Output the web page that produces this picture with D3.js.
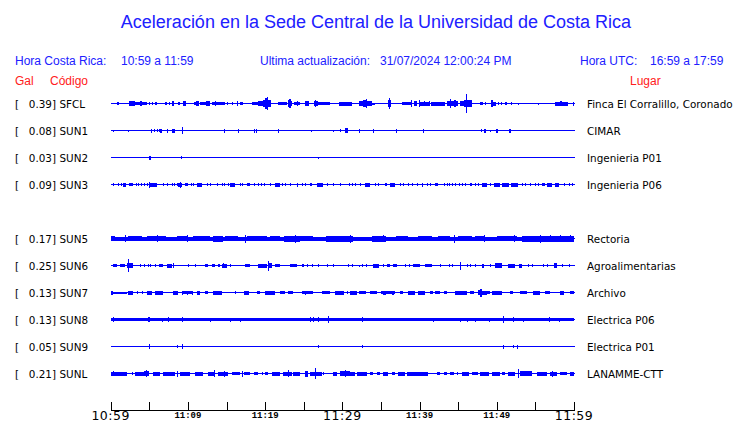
<!DOCTYPE html>
<html><head><meta charset="utf-8">
<script src="https://cdn.jsdelivr.net/npm/d3@7"></script>
<style>body{margin:0;background:#fff}svg{display:block}</style>
</head><body>
<svg id="c" width="740" height="423"></svg>
<script>
// ---------- data ----------
const title = "Aceleración en la Sede Central de la Universidad de Costa Rica";
const horaCR = "10:59 a 11:59";
const horaUTC = "16:59 a 17:59";
const actualizacion = "31/07/2024 12:00:24 PM";
const stations = ["SFCL","SUN1","SUN2","SUN3","SUN4","SUN5","SUN6","SUN7","SUN8","SUN9","SUNL"];
const galValues = [0.39,0.08,0.03,0.09,null,0.17,0.25,0.13,0.13,0.05,0.21];
const places = ["Finca El Corralillo, Coronado","CIMAR","Ingenieria P01","Ingenieria P06",null,"Rectoria","Agroalimentarias","Archivo","Electrica P06","Electrica P01","LANAMME-CTT"];
const tickMinutes = [0,5,10,15,20,25,30,35,40,45,50,55,60];
const labelMinutes = [0,10,20,30,40,50,60];
const tickLabels = ["10:59","11:09","11:19","11:29","11:39","11:49","11:59"];
const bigLabels = ["10:59","11:29","11:59"];

// waveform envelopes: [t0(min), t1(min), amplitude] or [t(min), amplitude]
const evSFCL = [[0.8,1.1,1],[2.4,3.2,2],[3.2,4.7,1],[3.8,4.0,2],[5.0,1],[5.3,5.5,1],[5.7,6.0,1],
[7.0,7.3,1],[7.5,7.7,1],[7.9,8.2,2],[8.7,9.0,1],[9.4,9.8,2],
[10.8,11.0,1],[11.1,11.4,2],[11.6,12.3,1],[12.4,12.9,2],[13.1,14.8,1],[13.5,13.7,2],[15.0,15.2,1],[15.7,15.8,1],[16.3,16.5,2],[16.8,17.1,1],
[18.3,19.1,1],[19.1,19.7,2],[19.7,20.0,3],[20.0,20.4,5],[20.2,20.3,6],[20.4,20.7,3],
[21.7,22.8,1],[22.9,23.1,3],[23.1,23.3,4],[23.3,23.5,2],[23.7,24.5,1],[24.1,24.3,2],[25.2,25.7,2],[26.3,26.8,2],[26.5,26.6,3],[26.9,28.4,1],
[29.6,31.2,1.5],[32.1,32.7,2],[32.7,33.2,3],[33.0,33.1,4],[33.2,33.8,2],[33.9,34.2,0.5],
[35.9,36.3,3],[36.1,5],[37.7,1],[37.8,39.0,1],[38.9,3],[39.3,39.7,2],[39.9,3],[40.1,41.3,1.5],[40.6,2],[41.2,2],[41.5,43.3,1.5],[43.5,43.9,2],[44.0,4],[44.0,45.0,2],[44.4,44.7,3],
[45.2,45.7,2],[45.7,46.0,3],[46.0,46.2,9],[46.2,46.8,3],
[47.8,48.2,1],[48.5,1],[49.2,49.5,3],[49.5,49.9,1.5],[50.2,1],[50.5,1],[51.1,51.3,1],[51.9,1],[52.8,0.5],
[55.4,0.5],[57.6,59.2,1.5],[58.2,58.4,2],[59.9,1.5]];
const evSUN1 = [[0.35,0.5],[2.2,0.5],[5.2,1.5],[5.6,1],[6.0,1],[6.3,1],[6.4,6.7,1.5],[7.25,7.45,1.5],[7.9,8.35,1.5],[9.2,3],[14.7,1.5],[16.5,1.5],[18.5,1.5],[18.8,1.5],[21.7,1.5],[26.0,0.5],[28.8,0.5],[29.7,1],[30.35,30.7,2],[32.1,1.5],[34.0,1.5],[37.0,1.5],[40.5,1.5],[48.0,1],[48.3,1.5],[48.5,1.5],[49.1,0.5],[49.9,50.1,1.5],[51.6,51.8,1.5]];
const evSUN2 = [[4.95,5.2,1.5],[9.1,1],[26.8,0.5]];
const evSUN3 = [[0.35,1],[1.0,1],[1.3,1],[1.65,1.95,1.5],[2.4,2.95,1],[3.25,1],[3.6,1],[3.9,1],[4.35,1],[4.65,1],[4.9,5.95,1.5],[5.0,2.5],[6.8,1],[7.25,1],[7.9,1],[8.2,1],[8.55,1],[8.75,9.2,1.5],[8.95,2.5],[9.6,10.05,1],[10.4,1],[10.7,1],[11.15,11.8,1.5],[12.45,1],[12.85,1],[13.75,1],[14.4,1],[14.7,1],[15.15,1],[15.45,16.1,1.5],[16.75,1],[16.95,1],[17.6,18.05,1],[18.5,1],[19.05,1],[19.5,1],[19.9,1],[20.65,1],[21.3,21.95,1.5],[22.15,1],[22.6,1],[23.25,1],[24.1,24.3,1.5],[24.75,1],[25.2,1],[25.8,26.05,1],[26.7,27.55,1.5],[28.0,1],[28.85,1],[29.7,1],[30.8,1],[31.2,1],[31.65,1],[32.3,1],[32.95,33.6,1.5],[34.25,1],[34.65,1],[35.55,35.75,1],[36.2,36.85,1.5],[37.5,1],[37.9,1],[38.55,1],[39.0,1],[39.65,39.85,1],[40.3,40.5,1.5],[40.95,1],[41.35,1],[42.0,42.45,1],[43.1,1],[43.5,1],[43.75,1],[44.2,1],[44.6,1],[45.05,1],[45.45,1],[45.9,1],[46.55,46.75,1],[47.2,1],[47.6,1],[48.05,48.7,1.5],[49.15,1],[49.6,50.4,1.5],[50.7,51.6,1.5],[51.9,52.8,1.5],[53.25,1],[53.65,1],[54.3,1],[54.95,1],[55.4,1],[55.85,56.25,1],[56.5,57.2,1.5],[57.5,58.0,1.5],[58.65,1],[59.3,1],[59.7,1]];
const evSUN4 = [];
const evSUN5 = [[0,60,1.5],[0,0.6,2],[1.8,2.0,3],[2.3,4.0,2],[4.7,7.2,2],[6.0,3],[8.6,9.9,2],[9.9,3],[10.7,12.8,2],[13.2,14.5,2.5],[14.8,16.5,2],[17.4,3.5],[17.6,20.2,2],[20.6,21.9,2],[22.4,24.5,2.5],[23.9,3.5],[24.5,26.2,2],[27.9,31.4,2.5],[31.0,3.5],[33.8,35.7,2.5],[35.3,3],[37.0,38.5,2],[39.8,41.6,2],[42.4,43.9,2],[44.4,3.5],[45.0,46.8,2],[47.2,48.3,2],[48.3,3],[50.0,52.6,2],[52.2,3],[53.3,60,2.5],[55.6,3.5],[56.9,3],[58.2,3],[59.5,3]];
const evSUN6 = [[0.35,0.8,1],[1.2,1.85,1],[2.05,2.95,2],[2.3,2.4,6],[3.8,1],[4.3,1],[4.8,1],[5.1,1],[5.7,1],[6.2,6.8,1],[7.25,7.9,1.5],[8.1,2],[10.05,1],[10.9,1],[12.2,12.65,1],[13.1,13.5,1],[13.95,14.15,1],[14.4,15.0,1.5],[14.6,2],[15.45,1],[17.4,18.05,1],[19.1,20.2,1.5],[20.4,4.5],[20.4,20.85,2],[21.3,21.95,1],[23.2,24.1,1],[24.75,25.05,1],[25.4,1],[26.05,1],[26.9,1],[28.0,1],[28.85,1],
[30.75,1],[31.2,31.4,1],[32.1,0.5],[32.5,1],[33.05,1],[34.0,34.8,1.5],[35.3,1],[35.75,36.2,1],[36.6,37.05,1],[38.1,1],[38.6,1],[39.2,40.05,1],[40.7,41.6,1],[42.7,1],[43.75,1],[44.2,1],[45.25,3.5],[46.1,1],[46.55,1],[47.2,1],[48.05,48.35,1.5],[49.1,1],[49.8,50.65,2],[51.5,52.4,1.5],[52.85,53.25,1.5],[54.0,1],[54.55,1],[56.05,1],[56.5,1],[57.35,57.8,2],[58.4,1],[59.3,1]];
const evSUN7 = [[0,0.35,1.5],[0.35,2.05,0.5],[2.3,2.95,1.5],[3.35,1],[4.0,1],[4.65,5.3,1.5],[5.75,6.8,1.5],[8.1,8.75,1.5],[9.2,10.7,1],[9.2,1.5],[9.9,1.5],[10.5,1.5],[11.15,11.55,1.5],[12.2,12.65,1],[13.3,14.4,1.5],[16.1,1],[17.2,17.85,1.5],[18.9,19.35,1],[20.0,21.3,1.5],[21.95,22.6,1],[23.0,23.65,1],[24.75,26.25,1],[25.2,1.5],[27.35,28.4,1],[29.05,30.15,1.5],[30.55,1],
[31.0,31.9,1.5],[32.1,33.0,1],[33.6,34.45,1],[35.0,36.8,1],[35.2,35.6,1.5],[36.4,36.7,1.5],[37.5,37.9,1],[38.55,39.4,1.5],[39.85,40.7,1.5],[41.4,41.8,1],[42.0,42.65,1],[43.1,43.5,1],[44.6,46.1,1.5],[46.55,47.0,1],[47.6,48.05,2],[47.85,48.05,3.5],[48.05,48.7,1.5],[48.7,49.1,1],[49.4,50.65,1.5],[51.7,52.15,1],[53.0,53.9,1],[54.75,55.6,1.5],[56.25,56.9,1],[58.2,58.65,1.5],[59.5,59.95,1]];
const evSUN8 = [[0,60,1],[0.35,2],[4.8,5.1,2],[6.7,1.5],[7.45,2],[9.2,2],[12.85,1.5],[15.45,1.5],[16.75,1.5],[25.8,2],[26.15,2],[26.8,2],[28.2,3],[32.6,2],[41.8,1.5],[45.25,1.5],[46.1,1.5],[47.2,1.5],[49.0,1.5],[50.85,3],[52.15,2],[53.35,1.5],[56.7,2],[58.0,1.5]];
const evSUN9 = [[5.0,2],[8.55,1],[9.2,2],[26.8,1],[32.6,1],[50.85,1.5],[52.15,1],[52.65,1.5]];
const evSUNL = [[0,2.05,1.5],[0.3,2],[2.7,2.95,1],[3.15,4.25,1.5],[4.25,5.0,2],[4.6,3],[5.5,6.4,1.5],[6.8,8.35,1.5],[8.55,2.5],[9.0,10.3,1.5],[10.9,12.0,1.5],[12.65,13.5,1.5],[13.4,3],[13.95,15.25,1.5],[14.7,2.5],[15.7,16.75,1],[17.05,2.5],[17.2,18.05,1],[18.5,19.1,1],[19.55,1],[20.0,20.4,1],[20.85,21.95,1.5],[22.35,23.45,1.5],[22.9,3],[23.65,24.5,1.5],[25.15,25.6,2.5],[25.8,27.35,1.5],[26.4,5],[27.55,1],[28.85,29.3,1.5],[29.7,31.0,2],[30.4,3],[31.0,31.65,1.5],[31.9,33.2,1.5],[33.6,34.0,1],[34.45,34.9,1],[35.3,35.95,1.5],[36.4,36.85,1],[37.25,38.15,1.5],[38.35,41.15,1.5],[42.2,42.65,1],[43.1,43.5,1],[43.95,44.4,1],[44.8,1],[45.5,46.35,1.5],[46.75,47.6,1],[47.85,48.95,1.5],[49.35,50.4,1.5],[50.65,51.05,1],[51.5,52.35,1.5],[52.8,4],[53.05,54.55,2],[55.2,56.5,1.5],[56.9,57.8,1.5],[57.2,2.5],[58.2,59.05,1],[59.5,60,1.5]];
const envelopes = [evSFCL,evSUN1,evSUN2,evSUN3,evSUN4,evSUN5,evSUN6,evSUN7,evSUN8,evSUN9,evSUNL];

// ---------- drawing ----------
const svg = d3.select("#c");
const blue = "#0000ff", textBlue = "#2020ff", red = "#ff2020";
const x = d3.scaleLinear().domain([0,60]).range([110.7,574]);
const y = d3.scalePoint().domain(stations).range([103,373]);
const amp = d3.scaleLinear().domain([0,10]).range([0,10]);
const sans = "'Liberation Sans', Arial, sans-serif";
const dv = "'DejaVu Sans', sans-serif";

svg.append("text").attr("x",376).attr("y",28).attr("text-anchor","middle")
  .attr("font-family",sans).attr("font-size",18).attr("fill",textBlue).text(title);

const hdr = svg.append("g").attr("font-family",sans).attr("font-size",12).attr("fill",textBlue);
hdr.append("text").attr("x",15).attr("y",65).text("Hora Costa Rica:");
hdr.append("text").attr("x",121).attr("y",65).text(horaCR);
hdr.append("text").attr("x",260).attr("y",65).text("Ultima actualización:");
hdr.append("text").attr("x",380).attr("y",65).text(actualizacion);
hdr.append("text").attr("x",580).attr("y",65).text("Hora UTC:");
hdr.append("text").attr("x",650).attr("y",65).text(horaUTC);

const sub = svg.append("g").attr("font-family",sans).attr("font-size",12).attr("fill",red);
sub.append("text").attr("x",15).attr("y",85).text("Gal");
sub.append("text").attr("x",50).attr("y",85).text("Código");
sub.append("text").attr("x",630).attr("y",85).text("Lugar");

const rows = stations.map((s,i)=>({code:s, gal:galValues[i], place:places[i], ev:envelopes[i]}))
  .filter(d=>d.gal!==null);

const fs = 10.4;
const g = svg.append("g");
const row = g.selectAll("g.row").data(rows).join("g").attr("class","row");
row.append("text").attr("x",15).attr("y",d=>y(d.code)+4.5)
  .attr("font-family",dv).attr("font-size",fs).attr("fill","#000").text("[");
row.append("text").attr("x",56).attr("y",d=>y(d.code)+4.5).attr("text-anchor","end")
  .attr("font-family",dv).attr("font-size",fs).attr("fill","#000").text(d=>d3.format(".2f")(d.gal)+"]");
row.append("text").attr("x",59.5).attr("y",d=>y(d.code)+4.5)
  .attr("font-family",dv).attr("font-size",fs).attr("fill","#000").text(d=>d.code);
row.append("text").attr("x",587).attr("y",d=>y(d.code)+4.5)
  .attr("font-family",dv).attr("font-size",fs).attr("fill","#000").text(d=>d.place);

row.append("line").attr("x1",x(0)).attr("x2",x(60)+1)
  .attr("y1",d=>y(d.code)+0.5).attr("y2",d=>y(d.code)+0.5)
  .attr("stroke",blue).attr("stroke-width",1).attr("shape-rendering","crispEdges");

row.each(function(d){
  const base = y(d.code);
  const segs = d.ev.map(e => e.length===2 ? {t0:e[0],t1:e[0],a:e[1]} : {t0:e[0],t1:e[1],a:e[2]});
  d3.select(this).selectAll("rect").data(segs).join("rect")
    .attr("x",s=>Math.round(x(s.t0)))
    .attr("width",s=>Math.max(1,Math.round(x(s.t1))-Math.round(x(s.t0))))
    .attr("y",s=>base-Math.floor(amp(s.a)))
    .attr("height",s=>Math.floor(amp(s.a))+Math.ceil(amp(s.a))+1)
    .attr("fill",blue).attr("shape-rendering","crispEdges");
});

// time axis
const axis = d3.axisTop(x).tickValues(tickMinutes).tickSize(8).tickSizeOuter(0).tickFormat("");
const ax = svg.append("g").attr("transform","translate(0,409.5)").call(axis);
ax.selectAll("path,line").attr("stroke","#000").attr("shape-rendering","crispEdges");

const isBig = i => bigLabels.includes(tickLabels[i]);
svg.append("g").selectAll("text").data(labelMinutes).join("text")
  .attr("x",d=>x(d)).attr("text-anchor","middle")
  .attr("y",(d,i)=>isBig(i)?420:417.5)
  .attr("font-family",(d,i)=>isBig(i)?dv:"'Liberation Mono', monospace")
  .attr("font-weight",(d,i)=>isBig(i)?"normal":"bold")
  .attr("font-size",(d,i)=>isBig(i)?12.5:9)
  .attr("letter-spacing",(d,i)=>isBig(i)?0.5:0)
  .attr("fill","#000")
  .text((d,i)=>tickLabels[i]);
</script>
</body></html>
